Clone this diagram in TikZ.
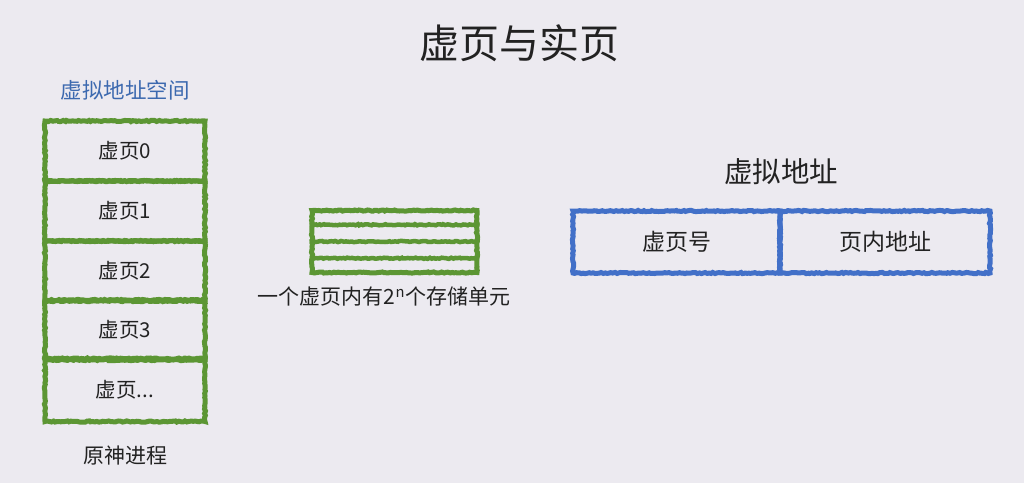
\documentclass[tikz,border=0pt]{standalone}
\usepackage{fontspec}
\setmainfont{Noto Sans CJK SC}
\usetikzlibrary{decorations.pathmorphing,calc}
\definecolor{bgc}{RGB}{236,234,240}
\definecolor{chalkgreen}{RGB}{92,150,52}
\definecolor{chalkblue}{RGB}{66,112,200}
\definecolor{labelblue}{RGB}{60,105,175}
\definecolor{ink}{RGB}{34,34,34}
\tikzset{
  chalk/.style={line width=5pt, decorate, decoration={random steps,segment length=2pt,amplitude=0.6pt}},
  gbox/.style={draw=chalkgreen, chalk, minimum width=160, minimum height=60, inner sep=0pt, text=ink, font=\fontsize{20.5}{24}\selectfont},
  bbox/.style={draw=chalkblue, chalk, minimum height=62, inner sep=0pt, text=ink, font=\fontsize{23}{27}\selectfont},
  lbl/.style={text=ink, inner sep=0pt},
}
\begin{document}
\begin{tikzpicture}[x=1pt,y=-1pt]
\fill[bgc] (0,0) rectangle (1024,483);
\useasboundingbox (0,0) rectangle (1024,483);
% title
\node[lbl, font=\fontsize{40}{46}\selectfont] (title) at (519,43) {虚页与实页};
% left stack
\node[lbl, text=labelblue, font=\fontsize{21.5}{25}\selectfont] (vas) at (125,90) {虚拟地址空间};
\node[gbox] (v0) at (125,151) {虚页0};
\node[gbox] (v1) at (125,211) {虚页1};
\node[gbox] (v2) at (125,271) {虚页2};
\node[gbox] (v3) at (125,330) {虚页3};
\node[gbox, minimum height=63] (v4) at (125,390) {虚页...};
\node[lbl, font=\fontsize{21}{25}\selectfont] (proc) at (125,455) {原神进程};
% middle page
\node[draw=chalkgreen, chalk, minimum width=165, minimum height=62, inner sep=0pt] (mem) at (394.5,241.5) {};
\foreach \f in {0.25,0.5,0.75}{
  \draw[chalkgreen, line width=4.5pt, decorate, decoration={random steps,segment length=2pt,amplitude=0.6pt}]
    ($(mem.north west)!\f!(mem.south west)$) -- ($(mem.north east)!\f!(mem.south east)$);
}
\node[lbl, font=\fontsize{21}{25}\selectfont] (cap) at (384,297) {一个虚页内有2\textsuperscript{n}个存储单元};
% virtual address
\node[lbl, font=\fontsize{28.5}{33}\selectfont] (va) at (781,172) {虚拟地址};
\node[bbox, minimum width=207] (vpn) at (676.5,242) {虚页号};
\node[bbox, minimum width=210] (off) at (885,242) {页内地址};
\end{tikzpicture}
\end{document}
